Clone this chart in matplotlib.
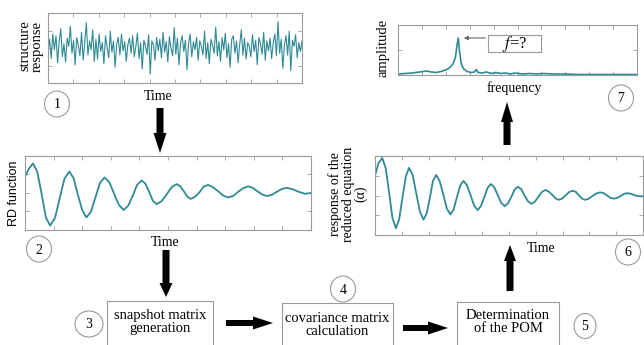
import matplotlib
matplotlib.use("Agg")
import matplotlib.pyplot as plt
from matplotlib.patches import Rectangle, Ellipse, FancyArrow

plt.rcParams['font.family'] = ['Liberation Serif', 'DejaVu Serif']
plt.rcParams['mathtext.fontset'] = 'stix'

W, H = 644, 345

# --- data ---
# (1) structure response, random-looking signal
resp = [
    -0.10, 0.25, -0.30, 0.40, -0.05, 0.35, -0.42, 0.18, 0.55, -0.25,
    0.12, -0.40, 0.28, 0.05, 0.62, -0.15, 0.22, -0.48, 0.30, 0.08,
    -0.22, 0.45, -0.35, 0.15, 0.72, -0.20, 0.20, -0.05, 0.52, -0.38,
    0.25, -0.32, 0.40, -0.10, 0.15, -0.45, 0.35, 0.02, -0.28, 0.48,
    -0.12, 0.20, -0.55, 0.12, 0.30, -0.20, 0.40, -0.08, 0.18, -0.38,
    0.10, 0.28, -0.15, 0.35, -0.25, 0.05, 0.42, -0.30, 0.15, -0.60,
    0.22, 0.05, -0.18, 0.38, -0.75, 0.20, 0.10, -0.35, 0.30, -0.08,
    0.25, -0.28, 0.45, -0.12, 0.18, -0.40, 0.32, 0.00, -0.22, 0.58,
    -0.18, 0.28, -0.48, 0.15, 0.35, -0.10, 0.22, -0.62, 0.12, 0.40,
    -0.25, 0.18, -0.05, 0.30, -0.35, 0.20, 0.05, -0.20, 0.48, -0.30,
    0.15, -0.45, 0.25, 0.08, -0.15, 0.60, -0.22, 0.18, -0.38, 0.30,
    -0.05, 0.42, -0.28, 0.12, -0.55, 0.25, 0.35, -0.15, 0.20, -0.42,
    0.10, 0.52, -0.20, 0.28, -0.32, 0.15, 0.05, -0.25, 0.38, -0.10,
    0.22, -0.48, 0.30, 0.12, -0.18, 0.45, -0.35, 0.20, -0.08, 0.28,
    -0.30, 0.15, 0.40, -0.22, 0.75, -0.15, 0.25, -0.58, 0.10, 0.35,
    -0.20, 0.48, -0.65, 0.22, 0.05, 0.38, -0.28, 0.15, -0.10, 0.20,
]

# (2) random decrement function
rd_t = [0.00, 0.14, 0.28, 0.43, 0.58, 0.73, 0.88, 1.05, 1.22, 1.38,
        1.55, 1.70, 1.85, 2.00, 2.15, 2.31, 2.47, 2.62, 2.78, 2.95,
        3.12, 3.28, 3.45, 3.61, 3.77, 3.92, 4.08, 4.21, 4.34, 4.47,
        4.60, 4.78, 4.95, 5.13, 5.30, 5.43, 5.55, 5.68, 5.80, 5.95,
        6.10, 6.25, 6.40, 6.58, 6.75, 6.93, 7.10, 7.28, 7.45, 7.63,
        7.80, 7.96, 8.12, 8.29, 8.45, 8.63, 8.80, 8.98, 9.15, 9.36,
        9.58, 9.79, 10.00]
rd_v = [0.44, 0.66, 0.80, 0.57, -0.02, -0.66, -0.88, -0.67, -0.12, 0.39,
        0.58, 0.40, -0.05, -0.46, -0.66, -0.50, -0.10, 0.27, 0.42, 0.29,
        -0.03, -0.32, -0.46, -0.34, -0.07, 0.22, 0.34, 0.25, 0.03, -0.21,
        -0.30, -0.22, -0.04, 0.16, 0.24, 0.18, 0.05, -0.10, -0.16, -0.10,
        0.02, 0.17, 0.22, 0.15, 0.05, -0.07, -0.12, -0.08, 0.03, 0.13,
        0.18, 0.14, 0.05, -0.04, -0.08, -0.05, 0.03, 0.11, 0.14, 0.10,
        0.03, -0.02, 0.00]

# (6) response of the reduced equation
red_t = [0.00, 0.13, 0.27, 0.40, 0.53, 0.65, 0.78, 0.90, 1.02, 1.15,
         1.27, 1.41, 1.54, 1.68, 1.81, 1.93, 2.05, 2.16, 2.28, 2.41,
         2.55, 2.68, 2.81, 2.93, 3.05, 3.18, 3.30, 3.43, 3.57, 3.70,
         3.83, 3.95, 4.08, 4.20, 4.32, 4.45, 4.58, 4.71, 4.84, 4.96,
         5.09, 5.21, 5.33, 5.46, 5.58, 5.71, 5.83, 5.96, 6.10, 6.23,
         6.36, 6.48, 6.61, 6.73, 6.85, 6.98, 7.12, 7.25, 7.38, 7.50,
         7.61, 7.73, 7.84, 7.98, 8.12, 8.26, 8.40, 8.53, 8.66, 8.78,
         8.91, 9.04, 9.17, 9.29, 9.42, 9.56, 9.71, 9.85, 10.00]
red_v = [0.50, 0.82, 0.95, 0.69, 0.06, -0.57, -0.83, -0.61, -0.07, 0.48,
         0.70, 0.51, 0.05, -0.42, -0.61, -0.45, -0.05, 0.36, 0.52, 0.37,
         0.02, -0.33, -0.48, -0.36, -0.06, 0.25, 0.37, 0.26, 0.00, -0.26,
         -0.37, -0.27, -0.04, 0.19, 0.29, 0.21, 0.01, -0.19, -0.27, -0.20,
         -0.03, 0.15, 0.22, 0.16, 0.00, -0.15, -0.21, -0.16, -0.03, 0.09,
         0.14, 0.10, 0.02, -0.07, -0.11, -0.08, 0.01, 0.09, 0.12, 0.09,
         0.00, -0.08, -0.11, -0.08, -0.01, 0.05, 0.08, 0.06, 0.00, -0.06,
         -0.08, -0.06, -0.01, 0.04, 0.06, 0.04, 0.00, -0.02, -0.02]

# (7) amplitude spectrum
freq = [0.0, 0.3, 0.6, 0.9, 1.2, 1.4, 1.6, 1.8, 2.0, 2.15, 2.3, 2.4,
        2.47, 2.52, 2.58, 2.65, 2.75, 2.9, 3.05, 3.2, 3.28, 3.35, 3.5,
        3.7, 3.9, 4.1, 4.3, 4.5, 4.7, 4.9, 5.2, 5.5, 5.8, 6.1, 6.4, 6.7,
        7.0, 7.5, 8.0, 8.5, 9.0, 9.5, 10.0]
amp = [0.02, 0.03, 0.04, 0.06, 0.08, 0.06, 0.05, 0.07, 0.10, 0.14, 0.22, 0.35,
       0.60, 0.74, 0.45, 0.22, 0.12, 0.07, 0.05, 0.06, 0.11, 0.05, 0.04,
       0.06, 0.03, 0.05, 0.03, 0.04, 0.02, 0.04, 0.02, 0.03, 0.02, 0.03, 0.02, 0.02,
       0.02, 0.01, 0.01, 0.01, 0.01, 0.01, 0.01]

steps = ["snapshot matrix\ngeneration", "covariance matrix\ncalculation",
         "Determination\nof the POM"]

LINE = '#2f8a95'
EDGE = '#9a9a9a'

fig = plt.figure(figsize=(W / 100, H / 100), dpi=100)


def px_axes(x0, y0, x1, y1):
    return fig.add_axes([x0 / W, 1 - y1 / H, (x1 - x0) / W, (y1 - y0) / H])


def style(ax, ylim=(-1, 1), yt=(-0.5, 0, 0.5)):
    ax.set_xlim(0, 10)
    ax.set_ylim(*ylim)
    ax.set_xticks(range(1, 10))
    ax.set_yticks(yt)
    ax.tick_params(direction='in', length=3, width=0.6, color=EDGE,
                   top=True, right=True, labelbottom=False, labelleft=False)
    for s in ax.spines.values():
        s.set_color(EDGE)
        s.set_linewidth(0.8)


# plot 1
ax1 = px_axes(48, 13, 302, 83)
ax1.plot([i * 10 / (len(resp) - 1) for i in range(len(resp))], resp,
         color=LINE, lw=0.8)
style(ax1)

# plot 2
ax2 = px_axes(25, 156, 311, 230)
ax2.plot(rd_t, rd_v, color=LINE, lw=1.3)
style(ax2)

# plot 6
ax6 = px_axes(375, 156, 643, 235)
ax6.plot(red_t, red_v, color=LINE, lw=1.3)
style(ax6)

# plot 7
ax7 = px_axes(398, 25, 637, 75)
ax7.plot(freq, amp, color=LINE, lw=1.2)
style(ax7, ylim=(0, 1), yt=(0.5,))

# overlay in pixel coordinates for the flowchart parts
ov = fig.add_axes([0, 0, 1, 1], facecolor='none')
ov.set_xlim(0, W)
ov.set_ylim(H, 0)
ov.axis('off')


def txt(x, y, s, size=10, **kw):
    ov.text(x, y, s, ha='center', va='center', fontsize=size, **kw)


def arrow(x0, y0, x1, y1, shaft=6.5, head=14, hl=16):
    ov.add_patch(FancyArrow(x0, y0, x1 - x0, y1 - y0, width=shaft,
                            head_width=head, head_length=hl,
                            length_includes_head=True, color='black', lw=0))


def circ(x, y, n, w=25, h=26):
    ov.add_patch(Ellipse((x, y), w, h, fill=False, ec=EDGE, lw=0.8))
    txt(x, y + 1, n, size=10)


# axis labels
txt(31, 46, "structure\nresponse", size=10.5, rotation=90, linespacing=0.9)
txt(158, 97, "Time")
txt(14, 193, "RD function", size=9, rotation=90,
    family=['Liberation Sans', 'DejaVu Sans'])
txt(165, 243, "Time")
txt(383, 48, "amplitude", size=10.5, rotation=90)
txt(514, 88, "frequency")
txt(348, 194, "response of the\nreduced equation\n(α)", size=10,
    rotation=90, linespacing=0.95)
txt(541, 249, "Time")

# f=? callout
ov.add_patch(Rectangle((488, 35), 53, 17, fill=False, ec=EDGE, lw=0.8))
txt(514.5, 43.5, "$f$=?", size=12)
ov.annotate("", xy=(461, 38), xytext=(488, 38),
            arrowprops=dict(arrowstyle='-|>', color='#666666', lw=0.8,
                            mutation_scale=6))

# step boxes
boxes = [(107, 301, 213), (282, 303, 393), (457, 302, 559)]
text_y = [322, 325, 322]
for (bx0, by0, bx1), label, ty in zip(boxes, steps, text_y):
    ov.add_patch(Rectangle((bx0, by0), bx1 - bx0, 60, fill=False,
                           ec=EDGE, lw=0.8))
    txt((bx0 + bx1) / 2, ty, label, size=10.5, linespacing=1.05)

# arrows
arrow(160, 108, 160, 153, shaft=7, head=13, hl=20)
arrow(166, 250, 166, 297, shaft=7, head=13, hl=14)
arrow(226, 323, 273, 323, shaft=6, head=13, hl=20)
arrow(403, 328, 448, 328, shaft=6, head=13, hl=20)
arrow(510, 291, 510, 245, shaft=7, head=12, hl=16)
arrow(507, 145, 507, 102, shaft=7, head=12, hl=20)

# step numbers
circ(57, 104, "1")
circ(39, 249, "2")
circ(89, 324, "3", w=28, h=26)
circ(343, 289, "4")
circ(585, 326, "5", w=22, h=25)
circ(628, 252, "6")
circ(621, 98, "7")

fig.savefig("out.png", dpi=100)
